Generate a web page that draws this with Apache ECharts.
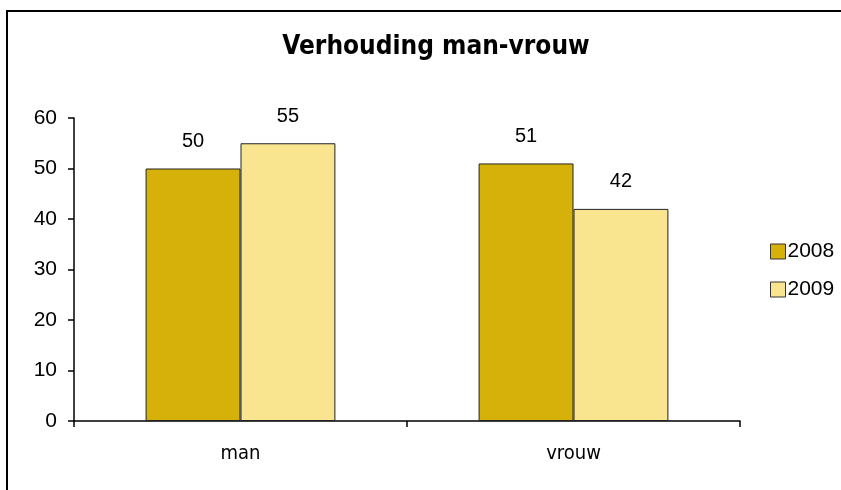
<!DOCTYPE html>
<html><head><meta charset="utf-8">
<script src="https://cdn.jsdelivr.net/npm/echarts@6/dist/echarts.min.js"></script>
<style>html,body{margin:0;padding:0;background:#fff}#c{width:841px;height:490px}</style>
</head><body><div id="c"></div>
<script>
const categories = ['man', 'vrouw'];
const seriesNames = ['2008', '2009'];
const values2008 = [50, 51];
const values2009 = [55, 42];
const colors = ['#D5B109', '#F9E48F'];

const narrow = '"DejaVu Sans Condensed", "Liberation Sans Narrow", "Arial Narrow", sans-serif';
const chart = echarts.init(document.getElementById('c'), null, {renderer: 'canvas'});
const labelStyle = {show: true, position: 'top', distance: 17, color: '#000', fontSize: 20, fontFamily: 'Liberation Sans, Arial, sans-serif'};
chart.setOption({
  animation: false,
  backgroundColor: '#fff',
  graphic: [{type: 'rect', shape: {x: 7, y: 11, width: 900, height: 600}, style: {fill: 'none', stroke: '#000', lineWidth: 2}}],
  title: {text: 'Verhouding man-vrouw', left: 431, top: 29, textAlign: 'center',
    textStyle: {fontFamily: narrow, fontWeight: 'bold', fontSize: 26, color: '#000'}},
  legend: {orient: 'vertical', left: 765, top: 236, itemWidth: 15, itemHeight: 15, itemGap: 17,
    itemStyle: {borderColor: '#333', borderWidth: 1},
    textStyle: {fontSize: 21, color: '#000', fontFamily: 'Liberation Sans, Arial, sans-serif', padding: [0, 0, 0, -3]},
    data: seriesNames.map(n => ({name: n, icon: 'rect'}))},
  grid: {left: 74, right: 101, top: 118, bottom: 69, containLabel: false},
  xAxis: {type: 'category', data: categories,
    axisLine: {lineStyle: {color: '#000', width: 1.5}},
    axisTick: {show: true, length: 6, lineStyle: {color: '#000', width: 1.5}},
    axisLabel: {color: '#000', fontSize: 20, margin: 23, fontFamily: narrow}},
  yAxis: {type: 'value', min: 0, max: 60, interval: 10,
    axisLine: {show: true, lineStyle: {color: '#000', width: 1.5}},
    axisTick: {show: true, length: 6, lineStyle: {color: '#000', width: 1.5}},
    splitLine: {show: false},
    axisLabel: {color: '#000', fontSize: 21, margin: 17, fontFamily: 'Liberation Sans, Arial, sans-serif'}},
  series: [
    {name: seriesNames[0], type: 'bar', data: values2008, barGap: '0%', barCategoryGap: '43%',
     itemStyle: {color: colors[0], borderColor: '#222', borderWidth: 1}, label: labelStyle},
    {name: seriesNames[1], type: 'bar', data: values2009, barGap: '0%', barCategoryGap: '43%',
     itemStyle: {color: colors[1], borderColor: '#222', borderWidth: 1}, label: labelStyle}
  ]
});
</script></body></html>
